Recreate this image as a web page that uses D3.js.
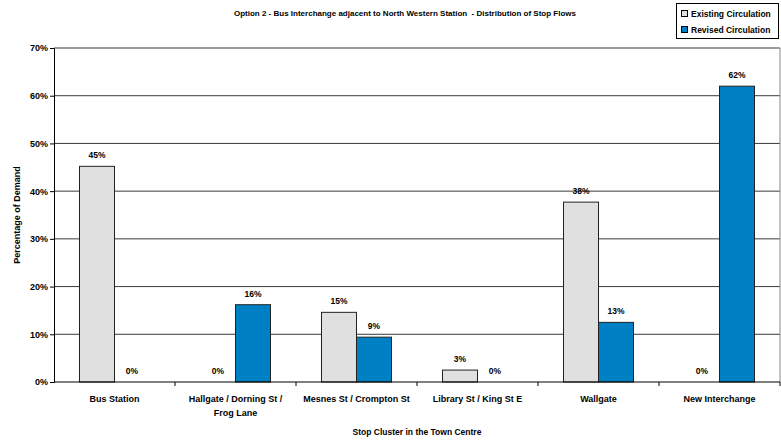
<!DOCTYPE html>
<html><head><meta charset="utf-8">
<script src="https://cdn.jsdelivr.net/npm/d3@7"></script>
<style>body{margin:0;background:#fff}svg{display:block;font-family:"Liberation Sans",Arial,sans-serif;font-weight:bold}</style>
</head><body><svg id="c" width="781" height="441"></svg>
<script>
const categories = [["Bus Station"],["Hallgate / Dorning St /","Frog Lane"],["Mesnes St / Crompton St"],["Library St / King St E"],["Wallgate"],["New Interchange"]];
const existing = [45.2, 0, 14.6, 2.5, 37.7, 0];
const revised = [0, 16.2, 9.4, 0, 12.5, 62.0];
const seriesNames = ["Existing Circulation","Revised Circulation"];
const colors = ["#e0e0e0","#0080c4"];
const yTicks = [0,10,20,30,40,50,60,70];

const svg = d3.select("#c");
const L=54, R=780, T=48, B=382;
const x = d3.scaleBand().domain(d3.range(categories.length)).range([L,R]);
const y = d3.scaleLinear().domain([0,70]).range([B,T]);
const bw = 35;

// gridlines
svg.append("g").selectAll("line").data(yTicks.slice(1)).join("line")
  .attr("x1",L).attr("x2",R).attr("y1",d=>y(d)).attr("y2",d=>y(d))
  .attr("stroke","#3a3a3a").attr("stroke-width",1);
svg.append("line").attr("x1",R).attr("x2",R).attr("y1",T).attr("y2",B).attr("stroke","#888");

// y axis
const ya = svg.append("g").attr("transform",`translate(${L},0)`)
  .call(d3.axisLeft(y).tickValues(yTicks).tickFormat(d=>d+"%").tickSizeOuter(0).tickSize(4));
ya.select(".domain").attr("stroke","#000");
ya.selectAll("line").attr("stroke","#000");
ya.selectAll("text").attr("font-size",9).attr("font-weight","bold").attr("font-family","Liberation Sans, Arial").attr("fill","#000").attr("x",-6);

// bars
const data = [];
categories.forEach((c,i)=>{data.push({i,s:0,v:existing[i]});data.push({i,s:1,v:revised[i]});});
const g = svg.append("g");
g.selectAll("rect").data(data.filter(d=>d.v>0)).join("rect")
  .attr("x",d=>x(d.i)+x.bandwidth()/2-bw+d.s*bw)
  .attr("y",d=>y(d.v)).attr("width",bw).attr("height",d=>y(0)-y(d.v))
  .attr("fill",d=>colors[d.s]).attr("stroke","#222").attr("stroke-width",1);
g.selectAll("text").data(data).join("text")
  .attr("x",d=>x(d.i)+x.bandwidth()/2-bw/2+d.s*bw)
  .attr("y",d=>y(d.v)-8)
  .attr("text-anchor","middle").attr("font-size",8.5).attr("fill","#000")
  .text(d=>Math.round(d.v)+"%");

// x axis
const xa = svg.append("g").attr("transform",`translate(0,${B})`);
xa.append("line").attr("x1",L).attr("x2",R).attr("stroke","#000");
xa.selectAll("line.t").data(d3.range(1,categories.length+1)).join("line").attr("class","t")
  .attr("x1",d=>x(d-1)+x.bandwidth()).attr("x2",d=>x(d-1)+x.bandwidth()).attr("y1",0).attr("y2",4).attr("stroke","#000");
xa.selectAll("text").data(categories).join("text")
  .attr("text-anchor","middle").attr("font-size",9).attr("fill","#000")
  .each(function(c,i){
    const t=d3.select(this);
    c.forEach((ln,k)=>t.append("tspan").attr("x",x(i)+x.bandwidth()/2).attr("y",20+k*14).text(ln));
  });

// titles
svg.append("text").attr("x",405).attr("y",16).attr("text-anchor","middle").attr("font-size",8)
  .text("Option 2 - Bus Interchange adjacent to North Western Station  - Distribution of Stop Flows").attr("xml:space","preserve");
svg.append("text").attr("x",417).attr("y",435).attr("text-anchor","middle").attr("font-size",8.5).text("Stop Cluster in the Town Centre");
svg.append("text").attr("transform","translate(20,215) rotate(-90)").attr("text-anchor","middle").attr("font-size",9).text("Percentage of Demand");

// legend
const lg = svg.append("g");
lg.append("rect").attr("x",676.5).attr("y",3.5).attr("width",102).attr("height",35).attr("fill","#fff").attr("stroke","#000");
seriesNames.forEach((n,i)=>{
  lg.append("rect").attr("x",681.5).attr("y",10.5+i*16).attr("width",6).attr("height",6).attr("fill",colors[i]).attr("stroke","#000");
  lg.append("text").attr("x",691).attr("y",17+i*16).attr("font-size",8.5).text(n);
});
</script></body></html>
